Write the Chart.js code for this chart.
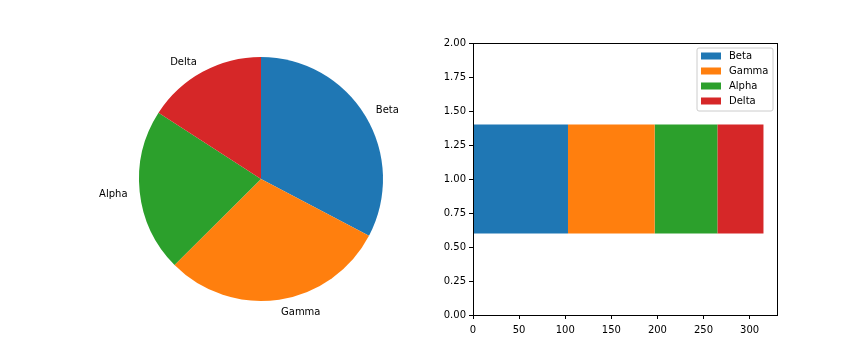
<!DOCTYPE html>
<html><head><meta charset="utf-8">
<script src="https://cdn.jsdelivr.net/npm/chart.js@4"></script>
<style>
html,body{margin:0;padding:0;background:#fff;}
#wrap{position:relative;width:864px;height:360px;}
canvas{position:absolute;top:0;}
#pie{left:0;}
#bar{left:430px;}
</style></head>
<body><div id="wrap"><canvas id="pie" width="430" height="360"></canvas><canvas id="bar" width="434" height="360"></canvas></div>
<script>
const categories = ['Beta', 'Gamma', 'Alpha', 'Delta'];
const values = [103, 94, 68, 50];
const colors = ['#1f77b4', '#ff7f0e', '#2ca02c', '#d62728'];
const yTicks = [0, 0.25, 0.5, 0.75, 1.0, 1.25, 1.5, 1.75, 2.0];
const xTicks = [0, 50, 100, 150, 200, 250, 300];

const FONT = 'DejaVu Sans';
Chart.defaults.font.family = FONT;
Chart.defaults.font.size = 10;
Chart.defaults.color = '#000';

const pieLabels = {
  id: 'pieLabels',
  afterDraw(chart) {
    const ctx = chart.ctx;
    const meta = chart.getDatasetMeta(0);
    ctx.save();
    ctx.font = '10px "' + FONT + '"';
    ctx.fillStyle = '#000';
    ctx.textBaseline = 'middle';
    meta.data.forEach((arc, i) => {
      const p = arc.getProps(['x', 'y', 'startAngle', 'endAngle', 'outerRadius'], true);
      const mid = (p.startAngle + p.endAngle) / 2;
      const r = p.outerRadius * 1.1;
      const x = p.x + r * Math.cos(mid);
      const y = p.y + r * Math.sin(mid) + 1;
      ctx.textAlign = x > p.x ? 'left' : 'right';
      ctx.fillText(chart.data.labels[i], x, y);
    });
    ctx.restore();
  }
};

new Chart(document.getElementById('pie'), {
  type: 'pie',
  data: {
    labels: categories,
    datasets: [{ data: values, backgroundColor: colors, borderWidth: 0, hoverOffset: 0 }]
  },
  options: {
    responsive: false,
    animation: false,
    layout: { padding: { left: 139, top: 57, right: 47, bottom: 59 } },
    plugins: { legend: { display: false }, tooltip: { enabled: false } }
  },
  plugins: [pieLabels]
});

const frameAndLegend = {
  id: 'frameAndLegend',
  afterDraw(chart) {
    const ctx = chart.ctx;
    const a = chart.chartArea;
    ctx.save();
    ctx.strokeStyle = '#000';
    ctx.lineWidth = 1;
    ctx.strokeRect(Math.round(a.left) + 0.5, Math.round(a.top) + 0.5, Math.round(a.right - a.left) - 1, Math.round(a.bottom - a.top));
    // legend
    const bx = a.right - 81, by = a.top + 5, bw = 76, bh = 63;
    ctx.beginPath();
    const rr = 2;
    ctx.moveTo(bx + rr, by);
    ctx.lineTo(bx + bw - rr, by); ctx.quadraticCurveTo(bx + bw, by, bx + bw, by + rr);
    ctx.lineTo(bx + bw, by + bh - rr); ctx.quadraticCurveTo(bx + bw, by + bh, bx + bw - rr, by + bh);
    ctx.lineTo(bx + rr, by + bh); ctx.quadraticCurveTo(bx, by + bh, bx, by + bh - rr);
    ctx.lineTo(bx, by + rr); ctx.quadraticCurveTo(bx, by, bx + rr, by);
    ctx.closePath();
    ctx.fillStyle = 'rgba(255,255,255,0.8)';
    ctx.fill();
    ctx.strokeStyle = '#cccccc';
    ctx.stroke();
    ctx.font = '10px "' + FONT + '"';
    ctx.textBaseline = 'middle';
    ctx.textAlign = 'left';
    chart.data.datasets.forEach((ds, i) => {
      const cy = by + 8 + i * 15;
      ctx.fillStyle = ds.backgroundColor;
      ctx.fillRect(bx + 4, cy - 3.5, 20, 7);
      ctx.fillStyle = '#000';
      ctx.fillText(ds.label, bx + 32, cy);
    });
    ctx.restore();
  }
};

new Chart(document.getElementById('bar'), {
  type: 'bar',
  data: {
    labels: ['row'],
    datasets: categories.map((c, i) => ({
      label: c,
      data: [values[i]],
      backgroundColor: colors[i],
      borderWidth: 0,
      categoryPercentage: 0.4,
      barPercentage: 1.0,
      yAxisID: 'yc'
    }))
  },
  options: {
    indexAxis: 'y',
    responsive: false,
    animation: false,
    layout: { padding: { left: 0, top: 43, right: 86, bottom: 0 } },
    plugins: { legend: { display: false }, tooltip: { enabled: false } },
    scales: {
      x: {
        type: 'linear', stacked: true, min: 0, max: 330.75, offset: false,
        afterFit(s) { s.height = 45; },
        afterBuildTicks(s) { s.ticks = xTicks.map(v => ({ value: v })); },
        border: { display: false },
        grid: { drawOnChartArea: false, drawTicks: true, tickLength: 4, color: '#000', offset: false },
        ticks: { padding: 5, color: '#000', font: { size: 10 }, maxRotation: 0, callback: v => String(v) }
      },
      yc: { type: 'category', stacked: true, display: false },
      y: {
        type: 'linear', position: 'left', min: 0, max: 2, offset: false,
        afterFit(s) { s.width = 43; },
        afterBuildTicks(s) { s.ticks = yTicks.map(v => ({ value: v })); },
        border: { display: false },
        grid: { drawOnChartArea: false, drawTicks: true, tickLength: 4, color: '#000', offset: false },
        ticks: { padding: 3, color: '#000', font: { size: 10 }, callback: v => Number(v).toFixed(2) }
      }
    }
  },
  plugins: [frameAndLegend]
});
</script></body></html>
